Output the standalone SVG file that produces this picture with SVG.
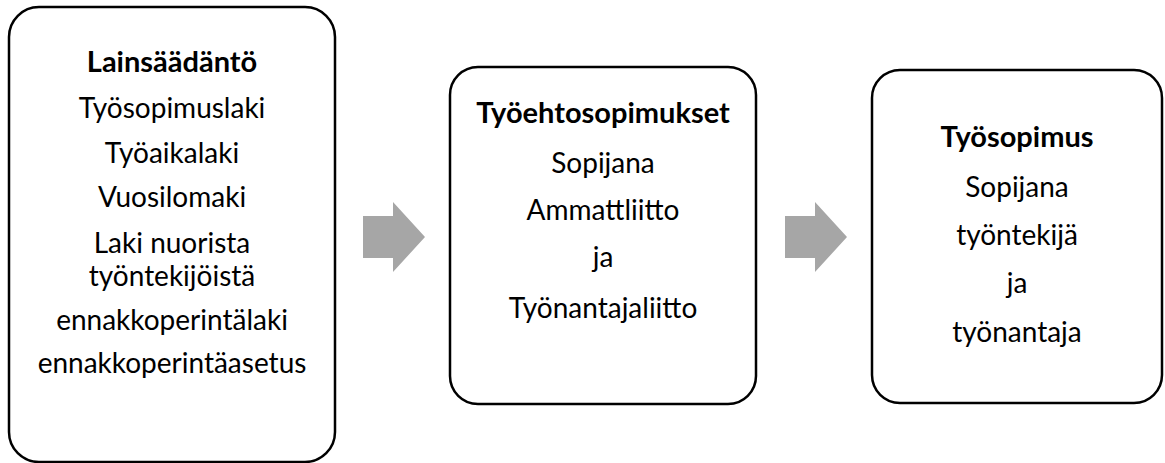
<svg xmlns="http://www.w3.org/2000/svg" width="1165" height="463" viewBox="0 0 1165 463">
<style>
.box{fill:#fff;stroke:#000;stroke-width:2.5}
.t{font-family:Lato,"Open Sans","Liberation Sans",sans-serif;font-size:28px;fill:#000;text-anchor:middle}
.b{font-weight:bold;font-size:29px}
.arr{fill:#a6a6a6}
</style>
<rect width="1165" height="463" fill="#fff"/>
<g id="connectors">
<polygon class="arr" points="363,216 393,216 393,202 425,237 393,272 393,258 363,258"/>
<polygon class="arr" points="785,216 815,216 815,202 847,237 815,272 815,258 785,258"/>
</g>
<g id="lainsaadanto">
<rect class="box" x="9" y="7" width="326" height="455" rx="30"/>
<text class="t b" x="172" y="72">Lainsäädäntö</text>
<text class="t" x="172" y="118">Työsopimuslaki</text>
<text class="t" x="172" y="163">Työaikalaki</text>
<text class="t" x="172" y="207">Vuosilomaki</text>
<text class="t" x="172" y="253">Laki nuorista</text>
<text class="t" x="172" y="286">työntekijöistä</text>
<text class="t" x="172" y="330">ennakkoperintälaki</text>
<text class="t" x="172" y="373">ennakkoperintäasetus</text>
</g>
<g id="tyoehtosopimukset">
<rect class="box" x="450" y="67" width="306" height="337" rx="28"/>
<text class="t b" x="603" y="123">Työehtosopimukset</text>
<text class="t" x="603" y="173">Sopijana</text>
<text class="t" x="603" y="220">Ammattliitto</text>
<text class="t" x="603" y="267">ja</text>
<text class="t" x="603" y="318">Työnantajaliitto</text>
</g>
<g id="tyosopimus">
<rect class="box" x="872" y="70" width="290" height="333" rx="28"/>
<text class="t b" x="1017" y="147">Työsopimus</text>
<text class="t" x="1017" y="197">Sopijana</text>
<text class="t" x="1017" y="245">työntekijä</text>
<text class="t" x="1017" y="293">ja</text>
<text class="t" x="1017" y="342">työnantaja</text>
</g>
</svg>
